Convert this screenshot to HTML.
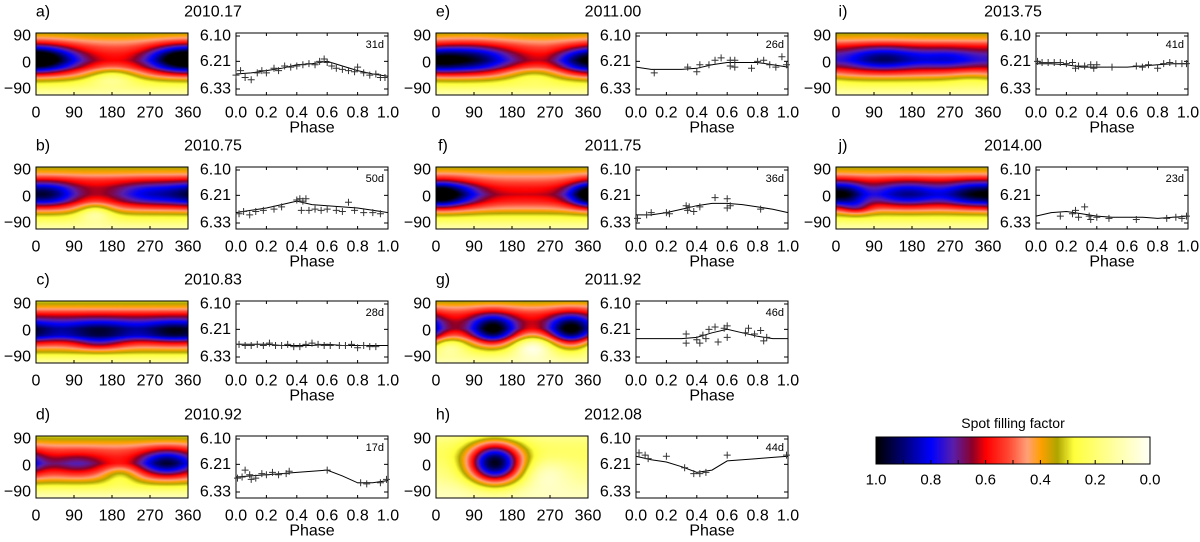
<!DOCTYPE html>
<html><head><meta charset="utf-8"><style>
html,body{margin:0;padding:0;background:#fff;}
#wrap{position:relative;width:1200px;height:542px;overflow:hidden;}
canvas,svg{position:absolute;left:0;top:0;}
text{font-family:"Liberation Sans",sans-serif;fill:#000;}
</style></head><body>
<div id="wrap">
<canvas id="cv" width="1200" height="542"></canvas>
<svg id="sv" width="1200" height="542"></svg>
</div>
<script>
// ---- panel metadata ----
const panelLetters=["a","b","c","d","e","f","g","h","i","j"];
const panelYears=["2010.17","2010.75","2010.83","2010.92","2011.00","2011.75","2011.92","2012.08","2013.75","2014.00"];
const panelPeriods=["31d","50d","28d","17d","26d","36d","46d","44d","41d","23d"];
const panelCols=[0,0,0,0,1,1,1,1,2,2];
const panelRows=[0,1,2,3,0,1,2,3,0,1];
// ---- map data: latitude profiles (lat 90..-90 in 20deg steps) ----
const profileLats=[90,70,50,30,10,-10,-30,-50,-70,-90];
const mapProfiles=[
[0.33,0.42,0.5,0.56,0.6,0.56,0.45,0.3,0.2,0.1],
[0.33,0.42,0.55,0.6,0.6,0.56,0.45,0.3,0.2,0.1],
[0.3,0.42,0.6,0.72,0.8,0.76,0.55,0.4,0.25,0.12],
[0.3,0.4,0.5,0.55,0.58,0.5,0.42,0.3,0.18,0.08],
[0.33,0.42,0.5,0.56,0.6,0.56,0.45,0.3,0.2,0.1],
[0.33,0.42,0.5,0.58,0.62,0.56,0.45,0.3,0.2,0.1],
[0.33,0.45,0.55,0.6,0.6,0.5,0.35,0.25,0.18,0.1],
[0.15,0.2,0.22,0.22,0.2,0.18,0.16,0.13,0.1,0.08],
[0.33,0.42,0.55,0.6,0.62,0.56,0.45,0.3,0.2,0.1],
[0.33,0.42,0.55,0.6,0.62,0.56,0.45,0.3,0.2,0.1]];
// spots: [lon, lat, amplitude, sigmaLon, sigmaLat]
const mapSpots=[
[[30,15,0.27,60,28],[340,15,0.36,55,28],[180,-35,-0.2,45,20]],
[[25,10,0.32,50,25],[270,10,0.22,60,25],[140,-40,-0.2,30,20]],
[[150,0,0.17,55,22],[330,0,0.2,50,22],[150,-35,0.12,40,15]],
[[100,5,0.15,45,25],[310,10,0.38,45,28],[200,-25,-0.15,30,20]],
[[80,15,0.36,70,30],[350,10,0.26,45,26],[230,-30,-0.15,50,18]],
[[30,10,0.36,50,27],[360,10,0.2,30,25]],
[[135,5,0.45,37,32],[320,5,0.45,37,32],[230,-40,-0.25,35,25],[30,-40,-0.15,30,20]],
[[140,10,0.78,45,42],[260,-20,-0.1,40,30]],
[[110,15,0.3,65,26],[270,15,0.2,60,24],[320,-40,-0.05,40,20]],
[[170,10,0.27,60,26],[330,10,0.35,50,26],[30,10,0.18,30,24],[50,-30,0.15,25,15]]];
// ---- light curve data ----
const curvePhases=[0,0.1,0.2,0.3,0.4,0.5,0.6,0.7,0.8,0.9,1.0];
const curveMags=[
[6.265,6.26,6.25,6.24,6.225,6.22,6.21,6.23,6.25,6.265,6.275],
[6.285,6.275,6.265,6.25,6.235,6.25,6.255,6.26,6.265,6.275,6.285],
[6.275,6.275,6.275,6.28,6.28,6.28,6.275,6.28,6.28,6.28,6.28],
[6.265,6.26,6.255,6.25,6.245,6.24,6.235,6.26,6.29,6.29,6.28],
[6.235,6.245,6.245,6.245,6.24,6.225,6.215,6.215,6.215,6.225,6.235],
[6.295,6.295,6.285,6.27,6.255,6.245,6.245,6.25,6.26,6.27,6.285],
[6.25,6.25,6.25,6.25,6.245,6.225,6.21,6.225,6.24,6.25,6.25],
[6.175,6.19,6.2,6.22,6.245,6.235,6.195,6.19,6.185,6.18,6.175],
[6.22,6.22,6.225,6.235,6.235,6.235,6.235,6.23,6.225,6.22,6.22],
[6.3,6.285,6.28,6.29,6.3,6.305,6.305,6.305,6.31,6.305,6.3]];
const obsPoints=[
[[0,6.27],[0.03,6.25],[0.06,6.28],[0.1,6.29],[0.14,6.26],[0.17,6.25],[0.2,6.26],[0.25,6.24],[0.28,6.25],[0.32,6.23],[0.36,6.235],[0.4,6.23],[0.44,6.225],[0.48,6.22],[0.52,6.225],[0.55,6.21],[0.58,6.2],[0.6,6.215],[0.63,6.23],[0.66,6.24],[0.7,6.245],[0.74,6.25],[0.78,6.255],[0.8,6.235],[0.84,6.26],[0.88,6.27],[0.92,6.265],[0.95,6.28],[0.98,6.28]],
[[0.02,6.29],[0.05,6.28],[0.09,6.295],[0.13,6.28],[0.18,6.275],[0.25,6.27],[0.3,6.26],[0.4,6.23],[0.42,6.225],[0.44,6.235],[0.46,6.225],[0.43,6.275],[0.48,6.275],[0.52,6.27],[0.56,6.275],[0.6,6.27],[0.66,6.275],[0.7,6.28],[0.74,6.24],[0.78,6.275],[0.84,6.285],[0.9,6.285],[0.95,6.29]],
[[0.02,6.275],[0.06,6.28],[0.1,6.28],[0.14,6.275],[0.18,6.28],[0.22,6.27],[0.26,6.28],[0.3,6.28],[0.34,6.275],[0.38,6.285],[0.42,6.285],[0.46,6.275],[0.5,6.27],[0.54,6.275],[0.58,6.28],[0.62,6.28],[0.68,6.28],[0.72,6.28],[0.76,6.275],[0.8,6.29],[0.84,6.28],[0.88,6.285],[0.92,6.285]],
[[0.01,6.27],[0.04,6.265],[0.06,6.235],[0.09,6.255],[0.1,6.275],[0.13,6.27],[0.17,6.25],[0.2,6.255],[0.24,6.245],[0.28,6.255],[0.33,6.25],[0.35,6.24],[0.6,6.235],[0.82,6.29],[0.86,6.295],[0.95,6.29],[0.99,6.275]],
[[0.12,6.26],[0.34,6.235],[0.4,6.255],[0.42,6.225],[0.48,6.225],[0.52,6.205],[0.56,6.195],[0.62,6.205],[0.65,6.205],[0.62,6.23],[0.65,6.235],[0.76,6.24],[0.8,6.21],[0.84,6.205],[0.88,6.225],[0.92,6.235],[0.96,6.19],[0.99,6.225]],
[[0.01,6.31],[0.07,6.295],[0.1,6.285],[0.2,6.285],[0.22,6.29],[0.33,6.255],[0.35,6.26],[0.34,6.275],[0.38,6.28],[0.42,6.26],[0.52,6.22],[0.6,6.225],[0.6,6.265],[0.62,6.255],[0.82,6.27]],
[[0.33,6.23],[0.33,6.27],[0.4,6.255],[0.42,6.27],[0.44,6.235],[0.46,6.25],[0.48,6.21],[0.52,6.2],[0.54,6.265],[0.58,6.205],[0.6,6.195],[0.6,6.245],[0.72,6.225],[0.74,6.205],[0.78,6.23],[0.82,6.215],[0.84,6.26],[0.86,6.245]],
[[0.02,6.16],[0.06,6.17],[0.08,6.185],[0.2,6.175],[0.32,6.225],[0.38,6.25],[0.42,6.25],[0.46,6.245],[0.6,6.17],[0.99,6.17]],
[[0.01,6.21],[0.04,6.215],[0.08,6.215],[0.12,6.215],[0.16,6.215],[0.2,6.22],[0.24,6.215],[0.26,6.24],[0.28,6.23],[0.32,6.23],[0.36,6.225],[0.38,6.24],[0.4,6.225],[0.5,6.235],[0.66,6.23],[0.7,6.235],[0.74,6.225],[0.8,6.24],[0.84,6.22],[0.88,6.215],[0.92,6.22],[0.96,6.22],[0.99,6.22]],
[[0.16,6.3],[0.24,6.29],[0.26,6.275],[0.28,6.305],[0.32,6.26],[0.35,6.3],[0.36,6.315],[0.4,6.305],[0.48,6.31],[0.66,6.315],[0.86,6.31],[0.92,6.305],[0.96,6.31],[0.99,6.3]]];
// ---- colorbar ----
const cbarTicks=["1.0","0.8","0.6","0.4","0.2","0.0"];
const cmapVals=[1.0,0.9,0.8,0.72,0.65,0.6,0.52,0.45,0.4,0.34,0.28,0.15,0.0];
const cmapCols=[[0,0,0],[0,0,120],[0,0,255],[90,30,170],[140,0,40],[255,0,0],[255,70,50],[255,160,120],[255,160,0],[175,165,0],[255,255,60],[255,255,150],[255,255,248]];

function cmap(v){v=Math.max(0,Math.min(1,v));
 for(let i=0;i<cmapVals.length-1;i++){const a=cmapVals[i],b=cmapVals[i+1];
  if(v<=a&&v>=b){const t=(a-v)/(a-b),c1=cmapCols[i],c2=cmapCols[i+1];
   return [0,1,2].map(k=>Math.round(c1[k]+(c2[k]-c1[k])*t));}}
 return cmapCols[cmapCols.length-1];}
const colX=[0,400,800], rowY=[0,134,268,403];
const MX0=36,MX1=188,LX0=236,LX1=388,BT=33,BB=95;
const lonX=(lon,cx)=>cx+MX0+lon/360*(MX1-MX0);
const phX=(p,cx)=>cx+LX0+p*(LX1-LX0);
const magY=(m,ry)=>ry+36+(m-6.10)/0.23*53;
const SVGNS="http://www.w3.org/2000/svg";
const sv=document.getElementById('sv');
function el(tag,attrs,parent){const e=document.createElementNS(SVGNS,tag);for(const k in attrs)e.setAttribute(k,attrs[k]);(parent||sv).appendChild(e);return e;}
function txt(s,x,y,size,anchor,parent){const t=el('text',{x:x,y:y,'font-size':size,'text-anchor':anchor||'middle','dominant-baseline':'central'},parent);t.textContent=s;return t;}
const ctx=document.getElementById('cv').getContext('2d');
function mapVal(p,lon,lat){
 const pr=mapProfiles[p];let i=0;while(i<profileLats.length-2&&lat<profileLats[i+1])i++;
 const t=(profileLats[i]-lat)/(profileLats[i]-profileLats[i+1]);let v=pr[i]+(pr[i+1]-pr[i])*Math.max(0,Math.min(1,t));
 for(const s of mapSpots[p]){let d=Math.abs(lon-s[0]);d=Math.min(d,360-d);v+=s[2]*Math.exp(-(d*d)/(2*s[3]*s[3])-((lat-s[1])*(lat-s[1]))/(2*s[4]*s[4]));}
 return v;}
for(let p=0;p<10;p++){
 const cx=colX[panelCols[p]],ry=rowY[panelRows[p]];
 const g=el('g',{});
 
 
 const W=MX1-MX0,H=BB-BT;const img=ctx.createImageData(W,H);
 for(let y=0;y<H;y++)for(let x=0;x<W;x++){const lon=(x+0.5)/W*360,lat=90-(y+0.5)/H*180;
  const c=cmap(mapVal(p,lon,lat));const o=(y*W+x)*4;img.data[o]=c[0];img.data[o+1]=c[1];img.data[o+2]=c[2];img.data[o+3]=255;}
 ctx.putImageData(img,cx+MX0,ry+BT);
 el('rect',{x:cx+MX0,y:ry+BT,width:W,height:H,fill:'none',stroke:'#000','stroke-width':1},g);
 txt(panelLetters[p]+')',cx+43,ry+12,16,'middle',g);
 const tt=txt(panelYears[p],cx+213,ry+12,16,'middle',g);
 
 [[90,36],[0,63],[-90,89]].forEach(a=>txt(a[0]==-90?'\u221290':String(a[0]),cx+31,ry+a[1],16,'end',g));
 [0,90,180,270,360].forEach(l=>{txt(String(l),lonX(l,cx),ry+113,16,'middle',g);
  el('line',{x1:lonX(l,cx),x2:lonX(l,cx),y1:ry+BB,y2:ry+BB-3,stroke:'#000'},g);});
 el('rect',{x:cx+LX0,y:ry+BT,width:LX1-LX0,height:BB-BT,fill:'#fff',stroke:'#000','stroke-width':1},g);
 ['6.10','6.21','6.33'].forEach(s=>{const y=magY(parseFloat(s),ry);txt(s,cx+231,y,16,'end',g);
  el('line',{x1:cx+LX0,x2:cx+LX0+4,y1:y,y2:y,stroke:'#000'},g);el('line',{x1:cx+LX1,x2:cx+LX1-4,y1:y,y2:y,stroke:'#000'},g);});
 [0,0.2,0.4,0.6,0.8,1.0].forEach(ph=>{txt(ph.toFixed(1),phX(ph,cx),ry+113,16,'middle',g);
  el('line',{x1:phX(ph,cx),x2:phX(ph,cx),y1:ry+BB,y2:ry+BB-3,stroke:'#000'},g);el('line',{x1:phX(ph,cx),x2:phX(ph,cx),y1:ry+BT,y2:ry+BT+3,stroke:'#000'},g);});
 txt('Phase',phX(0.5,cx),ry+128,16,'middle',g);
 txt(panelPeriods[p],cx+LX1-4,ry+45,11,'end',g);
 const pts=curvePhases.map((ph,i)=>phX(ph,cx).toFixed(1)+','+magY(curveMags[p][i],ry).toFixed(1)).join(' ');
 const pl=el('polyline',{points:pts,fill:'none',stroke:'#000','stroke-width':1},g);
 
 obsPoints[p].forEach(pt=>{const x=phX(pt[0],cx),y=magY(pt[1],ry);
  const m=el('path',{d:`M${x-3.5},${y}H${x+3.5}M${x},${y-3.5}V${y+3.5}`,stroke:'#333','stroke-width':1},g);
  });
}
const CB0=876,CB1=1150,CBT=437,CBB=464;
const cg=el('g',{});


for(let x=0;x<CB1-CB0;x++){const c=cmap(1-x/(CB1-CB0));ctx.fillStyle=`rgb(${c[0]},${c[1]},${c[2]})`;ctx.fillRect(CB0+x,CBT,1,CBB-CBT);}
el('rect',{x:CB0,y:CBT,width:CB1-CB0,height:CBB-CBT,fill:'none',stroke:'#000'},cg);
for(let i=0;i<=10;i++){const x=CB0+i/10*(CB1-CB0);el('line',{x1:x,x2:x,y1:CBB,y2:CBB-4,stroke:'#000'},cg);}
cbarTicks.forEach((s,i)=>txt(s,CB0+i/5*(CB1-CB0),480,15,'middle',cg));
txt('Spot filling factor',1013,423,14,'middle',cg);
</script>
</body></html>
